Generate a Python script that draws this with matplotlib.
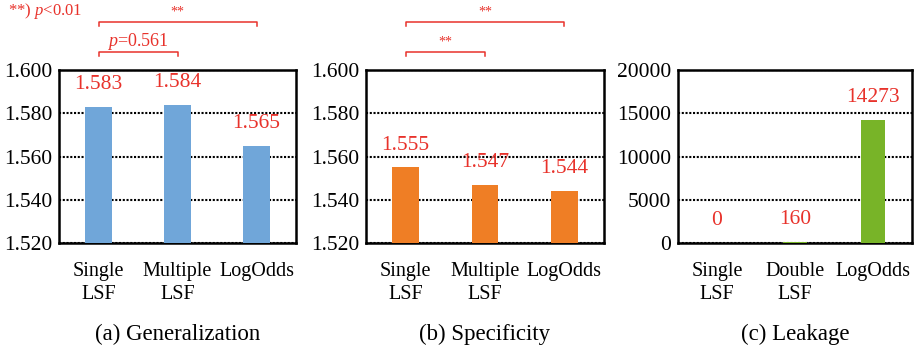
import matplotlib
matplotlib.use("Agg")
import matplotlib.pyplot as plt
from matplotlib.ticker import FormatStrFormatter

plt.rcParams["font.family"] = ["Liberation Serif", "DejaVu Serif"]
plt.rcParams["mathtext.fontset"] = "custom"
plt.rcParams["mathtext.it"] = "Liberation Serif:italic"
plt.rcParams["mathtext.rm"] = "Liberation Serif"

# data
gen_labels = ["Single\nLSF", "Multiple\nLSF", "LogOdds"]
gen_values = [1.583, 1.584, 1.565]
spec_labels = ["Single\nLSF", "Multiple\nLSF", "LogOdds"]
spec_values = [1.555, 1.547, 1.544]
leak_labels = ["Single\nLSF", "Double\nLSF", "LogOdds"]
leak_values = [0, 160, 14273]
captions = ["(a) Generalization", "(b) Specificity", "(c) Leakage"]

red = "#e8322b"
W, H = 915, 354

fig = plt.figure(figsize=(W / 100, H / 100), dpi=100)


def make_axes(left, right, top=70, bottom=243):
    return fig.add_axes([left / W, (H - bottom) / H, (right - left) / W, (bottom - top) / H])


def draw_panel(ax, labels, values, color, ylim, yticks, fmt, width):
    x = range(len(values))
    ax.bar(x, values, width=width, color=color, zorder=3)
    ax.set_xlim(-0.5, len(values) - 0.5)
    ax.set_ylim(*ylim)
    ax.set_yticks(yticks)
    ax.yaxis.set_major_formatter(FormatStrFormatter(fmt))
    ax.set_xticks(list(x))
    ax.set_xticklabels(labels, linespacing=1.25)
    ax.tick_params(axis="y", length=0, labelsize=15.5, pad=5)
    ax.tick_params(axis="x", length=0, labelsize=14.5, pad=14)
    ax.yaxis.grid(True, color="black", linestyle=(0, (1, 0.8)), linewidth=1.5, zorder=1)
    for s in ax.spines.values():
        s.set_linewidth(1.8)
    for i, v in enumerate(values):
        txt = ("%.3f" % v) if isinstance(v, float) else str(v)
        ax.annotate(txt, (i, v), xytext=(0, 16), textcoords="offset points",
                    ha="center", va="center", color=red, fontsize=15.5, zorder=4)


def bracket(ax, x0, x1, y, label, size=11):
    tr = ax.get_xaxis_transform()
    ax.plot([x0, x0, x1, x1], [y - 0.025, y, y, y - 0.025], color=red,
            linewidth=1.1, transform=tr, clip_on=False)
    ax.text((x0 + x1) / 2, y + 0.06, label, color=red, fontsize=size,
            ha="center", va="center", transform=tr)


ax1 = make_axes(59, 296)
draw_panel(ax1, gen_labels, gen_values, "#70a6d9", (1.52, 1.60),
           [1.52, 1.54, 1.56, 1.58, 1.60], "%.3f", 0.34)
bracket(ax1, 0, 1, 1.104, "$p$=0.561", 13)
bracket(ax1, 0, 2, 1.277, "**", 10)

ax2 = make_axes(366, 604)
draw_panel(ax2, spec_labels, spec_values, "#ef7e25", (1.52, 1.60),
           [1.52, 1.54, 1.56, 1.58, 1.60], "%.3f", 0.34)
bracket(ax2, 0, 1, 1.104, "**", 10)
bracket(ax2, 0, 2, 1.277, "**", 10)

ax3 = make_axes(678, 912)
draw_panel(ax3, leak_labels, leak_values, "#78b428", (0, 20000),
           [0, 5000, 10000, 15000, 20000], "%d", 0.31)

fig.text(8 / W, 1 - 11 / H, "**) $p$<0.01", color=red, fontsize=12, ha="left", va="center")

for ax, cap in zip([ax1, ax2, ax3], captions):
    pos = ax.get_position()
    fig.text((pos.x0 + pos.x1) / 2, 1 - 334 / H, cap, fontsize=16.5, ha="center", va="center")

fig.savefig("out.png", dpi=100)
